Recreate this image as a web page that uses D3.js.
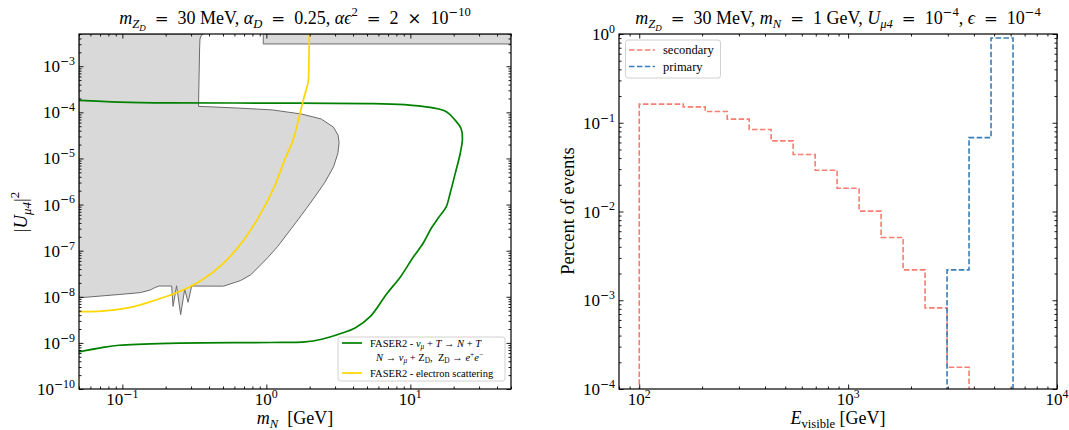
<!DOCTYPE html>
<html>
<head>
<meta charset="utf-8">
<script src="https://cdn.jsdelivr.net/npm/d3@7"></script>
<style>
body { margin: 0; background: #fff; }
svg text { font-family: "Liberation Serif", "DejaVu Serif", serif; fill: #000; white-space: pre; }
</style>
</head>
<body>
<div id="chart"></div>
<script>
// ---- left panel data: (m_N [GeV], |U_mu4|^2) ----
const excludedRegion = [
    [0.05, 5e-3], [0.365, 5e-3], [0.352, 4.6e-3], [0.346, 3.9e-3], [0.344, 2.5e-3],
    [0.338, 1.35e-4], [0.63, 1.24e-4], [1.1, 1.13e-4], [1.75, 9.2e-5], [2.4, 7.2e-5],
    [2.92, 4.8e-5], [3.15, 3.2e-5], [3.2, 2.2e-5], [3.14, 1.3e-5], [2.93, 6.6e-6],
    [2.56, 3.1e-6], [2.18, 1.5e-6], [1.9, 8.3e-7], [1.66, 4.7e-7], [1.41, 2.4e-7],
    [1.2, 1.24e-7], [1.02, 7.0e-8], [0.868, 4.2e-8], [0.779, 3.0e-8], [0.663, 2.25e-8],
    [0.505, 1.7e-8], [0.303, 1.71e-8], [0.286, 7.6e-9], [0.271, 1.45e-8], [0.254, 4.1e-9],
    [0.238, 1.73e-8], [0.225, 6.2e-9], [0.22, 1.71e-8], [0.18, 1.71e-8], [0.168, 1.58e-8],
    [0.156, 1.4e-8], [0.133, 1.23e-8], [0.095, 1.12e-8], [0.05, 9.5e-9]
];
const excludedBand = [[0.952, 5e-3], [0.952, 3.04e-3], [50, 3.04e-3], [50, 5e-3]];

const faserDecay = [
    [0.05, 1.82e-4], [0.095, 1.67e-4], [0.21, 1.6e-4], [1.08, 1.59e-4], [5.45, 1.54e-4],
    [9.9, 1.44e-4], [17.4, 1.07e-4], [20.5, 6.7e-5], [22.5, 4.45e-5], [23.0, 2.7e-5],
    [22.2, 1.28e-5], [20.5, 4.75e-6], [18.9, 1.76e-6], [17.7, 8.8e-7], [15.9, 5.5e-7],
    [14.0, 3.1e-7], [12.3, 1.47e-7], [10.4, 7.0e-8], [8.6, 2.8e-8], [6.8, 1.12e-8],
    [5.3, 3.8e-9], [4.16, 2.14e-9], [3.18, 1.54e-9], [2.42, 1.2e-9], [1.85, 1.05e-9],
    [1.08, 1.02e-9], [0.21, 9.8e-10], [0.095, 8.9e-10], [0.072, 7.9e-10], [0.05, 6.4e-10]
];
const faserElectron = [
    [0.05, 4.75e-9], [0.072, 4.9e-9], [0.111, 5.8e-9], [0.162, 8.1e-9], [0.237, 1.22e-8],
    [0.346, 2.18e-8], [0.505, 5.4e-8], [0.699, 1.73e-7], [0.916, 6.5e-7], [1.137, 2.45e-6],
    [1.337, 9.2e-6], [1.531, 2.5e-5], [1.69, 8.0e-5], [1.83, 2.15e-4], [1.95, 4.5e-4],
    [1.975, 1.3e-3], [1.99, 5e-3]
];

// ---- right panel data: E_visible bins [GeV], fraction of events ----
const binEdges = [100, 127.43, 162.38, 206.91, 263.66, 335.98, 428.13, 545.56, 695.19,
    885.87, 1128.84, 1438.45, 1832.98, 2335.72, 2976.35, 3792.69, 4832.93, 6158.48, 7847.6, 10000];
const secondary = [0.162, 0.162, 0.151, 0.134, 0.110, 0.084, 0.0625, 0.0438, 0.0292,
    0.0183, 0.0101, 0.0051, 0.0022, 8.2e-4, 1.76e-4, 0, 0, 0, 0];
const primary = [0, 0, 0, 0, 0, 0, 0, 0, 0, 0, 0, 0, 0, 0, 2.2e-3, 0.068, 0.90, 0, 0];

const W = 1069, H = 430;
const svg = d3.select("#chart").append("svg").attr("width", W).attr("height", H);

// math-ish text: parts are [text, opts]; opts: i italic, ^ sup, _ sub, __ subsub, s symbol font
function mathText(g, parts, size) {
    const t = g.append("text").attr("font-size", size);
    let cur = 0;
    parts.forEach(p => {
        const txt = p[0], opt = p[1] || "";
        let off = 0, fs = size;
        if (opt.includes("^")) { off = -0.42 * size; fs = 0.7 * size; }
        if (opt.includes("_")) { off = 0.22 * size; fs = 0.7 * size; }
        if (opt.includes("__")) { off = 0.4 * size; fs = 0.5 * size; }
        const ts = t.append("tspan").attr("dy", off - cur).attr("font-size", fs).text(txt);
        if (opt.includes("i")) ts.attr("font-style", "italic");
        if (opt.includes("s")) ts.attr("font-family", "DejaVu Serif").attr("font-size", fs * 0.92);
        cur = off;
    });
    return t;
}

const EQ = [["\u2002"], ["=", "s"], ["\u2002"]];
const isMajor = v => Math.abs(Math.log10(v) - Math.round(Math.log10(v))) < 1e-9;
const powLabel = v => {
    const k = Math.round(Math.log10(v));
    return k < 0 ? [["10"], ["\u2212", "^s"], [String(-k), "^"]] : [["10"], [String(k), "^"]];
};

function drawAxes(g, x, y, labelSize) {
    const [x0, x1] = x.range(), [y0, y1] = y.range();
    const xt = x.ticks(), yt = y.ticks();
    [[d3.axisBottom(x), y0], [d3.axisTop(x), y1]].forEach(([ax, pos]) => {
        [[xt.filter(isMajor), 4.5], [xt.filter(v => !isMajor(v)), 2.5]].forEach(([vals, len]) => {
            g.append("g").attr("transform", `translate(0,${pos})`)
                .call(ax.tickValues(vals).tickSize(-len).tickFormat(""))
                .call(s => s.select(".domain").remove());
        });
    });
    [[d3.axisLeft(y), x0], [d3.axisRight(y), x1]].forEach(([ax, pos]) => {
        [[yt.filter(isMajor), 4.5], [yt.filter(v => !isMajor(v)), 2.5]].forEach(([vals, len]) => {
            g.append("g").attr("transform", `translate(${pos},0)`)
                .call(ax.tickValues(vals).tickSize(-len).tickFormat(""))
                .call(s => s.select(".domain").remove());
        });
    });
    g.selectAll(".tick line").attr("stroke", "#000").attr("stroke-width", 0.9);
    g.append("rect").attr("x", x0).attr("y", y1).attr("width", x1 - x0).attr("height", y0 - y1)
        .attr("fill", "none").attr("stroke", "#000").attr("stroke-width", 1.2);

    xt.filter(isMajor).forEach(v => {
        mathText(g, powLabel(v), labelSize).attr("x", x(v)).attr("y", y0 + 16).attr("text-anchor", "middle");
    });
    yt.filter(isMajor).forEach(v => {
        mathText(g, powLabel(v), labelSize).attr("x", x0 - 4).attr("y", y(v) + 6).attr("text-anchor", "end");
    });
}

function clip(id, x, y) {
    svg.append("clipPath").attr("id", id).append("rect")
        .attr("x", x.range()[0]).attr("y", y.range()[1])
        .attr("width", x.range()[1] - x.range()[0]).attr("height", y.range()[0] - y.range()[1]);
}

// ================= left panel =================
const xL = d3.scaleLog().domain([0.05, 50]).range([79, 511]);
const yL = d3.scaleLog().domain([1e-10, 5e-3]).range([389, 34]);
clip("clipL", xL, yL);
const gL = svg.append("g");
const dataL = gL.append("g").attr("clip-path", "url(#clipL)");
const lineL = d3.line().x(d => xL(d[0])).y(d => yL(d[1]));

[excludedRegion, excludedBand].forEach(poly => {
    dataL.append("path").attr("d", lineL(poly) + "Z")
        .attr("fill", "#d9d9d9").attr("stroke", "#6b6b6b").attr("stroke-width", 1);
});
dataL.append("path").attr("d", lineL.curve(d3.curveCatmullRom)(faserDecay))
    .attr("fill", "none").attr("stroke", "#008000").attr("stroke-width", 1.7);
dataL.append("path").attr("d", lineL.curve(d3.curveCatmullRom)(faserElectron))
    .attr("fill", "none").attr("stroke", "#ffd700").attr("stroke-width", 1.7);

drawAxes(gL, xL, yL, 17);

mathText(gL, [["m", "i"], ["Z", "_i"], ["D", "__i"], ...EQ, ["30 MeV, "], ["\u03b1", "i"], ["D", "_i"],
    ...EQ, ["0.25, "], ["\u03b1\u03f5", "i"], ["2", "^"], ...EQ, ["2\u2002"], ["\u00d7", "s"], ["\u200210"],
    ["\u2212", "^s"], ["10", "^"]], 18)
    .attr("x", 295).attr("y", 24).attr("text-anchor", "middle");
mathText(gL, [["m", "i"], ["N", "_i"], ["  [GeV]"]], 18)
    .attr("x", 295).attr("y", 424).attr("text-anchor", "middle");
mathText(gL.append("g").attr("transform", "translate(27,212) rotate(-90)"),
    [["|"], ["U", "i"], ["\u03bc4", "_i"], ["|"], ["2", "^"]], 18.5).attr("text-anchor", "middle");

// legend (left)
const legL = gL.append("g");
legL.append("rect").attr("x", 338).attr("y", 337).attr("width", 167).attr("height", 44).attr("rx", 2.5)
    .attr("fill", "#fff").attr("fill-opacity", 0.85).attr("stroke", "#d0d0d0");
legL.append("line").attr("x1", 342).attr("x2", 362).attr("y1", 343).attr("y2", 343)
    .attr("stroke", "#008000").attr("stroke-width", 1.7);
legL.append("line").attr("x1", 342).attr("x2", 362).attr("y1", 373).attr("y2", 373)
    .attr("stroke", "#ffd700").attr("stroke-width", 1.7);
mathText(legL, [["FASER2 - "], ["\u03bd", "i"], ["\u03bc", "_i"], [" + "], ["T", "i"], [" \u2192 "],
    ["N", "i"], [" + "], ["T", "i"]], 10.5).attr("x", 370).attr("y", 346.5);
mathText(legL, [["N", "i"], [" \u2192 "], ["\u03bd", "i"], ["\u03bc", "_i"], [" + Z"], ["D", "_"],
    [",  Z"], ["D", "_"], [" \u2192 "], ["e", "i"], ["+", "^"], ["e", "i"], ["\u2212", "^"]], 10.5)
    .attr("x", 376).attr("y", 361);
mathText(legL, [["FASER2 - electron scattering"]], 10.5).attr("x", 370).attr("y", 376.5);

// ================= right panel =================
const xR = d3.scaleLog().domain([80, 1e4]).range([619, 1057]);
const yR = d3.scaleLog().domain([1e-4, 1]).range([389, 34]);
clip("clipR", xR, yR);
const gR = svg.append("g");
const dataR = gR.append("g").attr("clip-path", "url(#clipR)");
const floor = 1e-6;
function stepPoints(vals) {
    const pts = [[binEdges[0], floor]];
    vals.forEach((v, i) => {
        const yv = v > 0 ? v : floor;
        pts.push([binEdges[i], yv], [binEdges[i + 1], yv]);
    });
    pts.push([binEdges[binEdges.length - 1], floor]);
    return pts;
}
const lineR = d3.line().x(d => xR(d[0])).y(d => yR(d[1]));
const series = [
    { name: "secondary", vals: secondary, color: "#f87c72" },
    { name: "primary", vals: primary, color: "#3a7db8" }
];
series.forEach(s => {
    dataR.append("path").attr("d", lineR(stepPoints(s.vals)))
        .attr("fill", "none").attr("stroke", s.color).attr("stroke-width", 1.6)
        .attr("stroke-dasharray", "5.5,2.4");
});

drawAxes(gR, xR, yR, 17);

mathText(gR, [["m", "i"], ["Z", "_i"], ["D", "__i"], ...EQ, ["30 MeV, "], ["m", "i"], ["N", "_i"],
    ...EQ, ["1 GeV, "], ["U", "i"], ["\u03bc4", "_i"], ...EQ, ["10"], ["\u2212", "^s"], ["4", "^"], [", "],
    ["\u03f5", "i"], ...EQ, ["10"], ["\u2212", "^s"], ["4", "^"]], 18)
    .attr("x", 838).attr("y", 24).attr("text-anchor", "middle");
mathText(gR, [["E", "i"], ["visible", "_"], [" [GeV]"]], 18)
    .attr("x", 838).attr("y", 424).attr("text-anchor", "middle");
mathText(gR.append("g").attr("transform", "translate(574,211) rotate(-90)"),
    [["Percent of events"]], 18.5).attr("text-anchor", "middle");

// legend (right)
const legR = gR.append("g");
legR.append("rect").attr("x", 625.5).attr("y", 40).attr("width", 95).attr("height", 38).attr("rx", 2.5)
    .attr("fill", "#fff").attr("fill-opacity", 0.85).attr("stroke", "#d0d0d0");
series.forEach((s, i) => {
    legR.append("line").attr("x1", 629).attr("x2", 655).attr("y1", 50 + i * 16.5).attr("y2", 50 + i * 16.5)
        .attr("stroke", s.color).attr("stroke-width", 1.6).attr("stroke-dasharray", "5.5,2.4");
    legR.append("text").attr("x", 663).attr("y", 54 + i * 16.5).attr("font-size", 12.5).text(s.name);
});
</script>
</body>
</html>
